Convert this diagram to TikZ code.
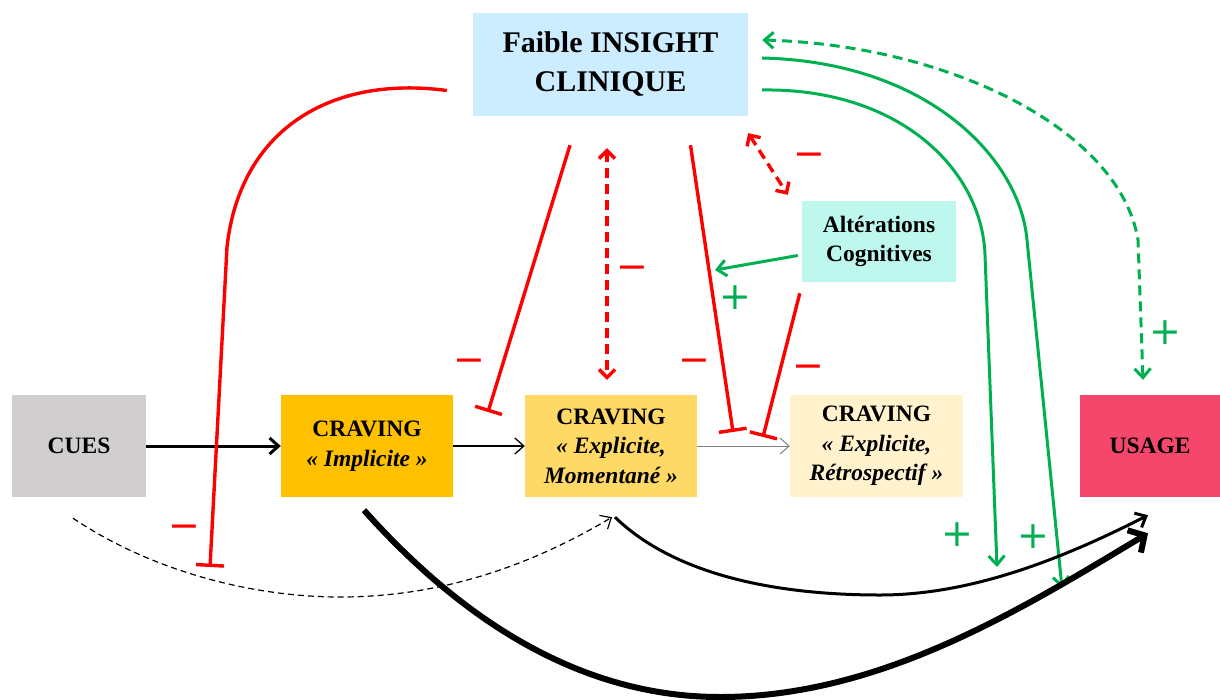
\documentclass[tikz,border=0pt]{standalone}
\usepackage{fontspec}
\setmainfont{Liberation Serif}
\newfontfamily\signfont{DejaVu Sans}
\usepackage{tikz}
\usetikzlibrary{calc,arrows.meta,positioning}
\definecolor{insightblue}{RGB}{204,236,255}
\definecolor{cuesgray}{RGB}{208,206,206}
\definecolor{implorange}{RGB}{255,192,0}
\definecolor{momyellow}{RGB}{255,217,102}
\definecolor{retrocream}{RGB}{255,242,204}
\definecolor{usagered}{RGB}{244,71,107}
\definecolor{altcyan}{RGB}{189,247,238}
\definecolor{inhibred}{RGB}{255,0,0}
\definecolor{plusgreen}{RGB}{0,176,80}
\tikzset{
  box/.style={inner sep=0pt,minimum height=102,align=center,
    font=\bfseries\fontsize{23.5}{29.5}\selectfont},
  link/.style={-{Straight Barb[length=9,width=16]}},
  inhib/.style={draw=inhibred,line width=3.4,-{Bar[width=28]}},
  inhibdash/.style={draw=inhibred,line width=3.4,dash pattern=on 10 off 6,
    {Straight Barb[length=8,width=16]}-{Straight Barb[length=8,width=16]}},
  excite/.style={draw=plusgreen,line width=3,-{Straight Barb[length=9,width=16]}},
  sign/.style={inner sep=0pt,font=\signfont\fontsize{38}{38}\selectfont},
  minus/.style={sign,text=inhibred},
  plus/.style={sign,text=plusgreen}
}
\begin{document}
\begin{tikzpicture}[x=1pt,y=-1pt]
  \useasboundingbox (0,0) rectangle (1220,699);
  % boxes
  \node[box,fill=insightblue,minimum width=275,minimum height=103,
    font=\bfseries\fontsize{30}{39}\selectfont] (insight) at (610.5,64.5)
    {Faible INSIGHT\\CLINIQUE};
  \node[box,fill=cuesgray,minimum width=134] (cues) at (79,446) {CUES};
  \node[box,fill=implorange,minimum width=172] (implicite) at (367,446)
    {CRAVING\\\textit{«~Implicite~»}};
  \node[box,fill=momyellow,minimum width=172] (momentane) at (611,446)
    {CRAVING\\\textit{«~Explicite,}\\\textit{Momentané~»}};
  \node[box,fill=retrocream,minimum width=173] (retro) at (876.5,446)
    {CRAVING\\\textit{«~Explicite,}\\\textit{Rétrospectif~»}};
  \node[box,fill=usagered,minimum width=140] (usage) at (1150,446) {USAGE};
  \node[box,fill=altcyan,minimum width=154,minimum height=81] (alter) at (879,241.5)
    {Altérations\\Cognitives};

  % craving chain
  \draw[link,line width=3] (cues) -- (implicite);
  \draw[link,line width=1.3] (implicite) -- (momentane);
  \draw[link,line width=1,draw=gray] (momentane) -- (retro);

  % inhibitions
  \coordinate (barA) at (210,567);
  \coordinate (barB) at (488,412);
  \coordinate (barC) at (733,432);
  \coordinate (barD) at (763,437);
  \draw[inhib] ($(insight.west)+(-26,26)$) .. controls (330,75) and (240,130)
    .. (227,247) -- (barA);
  \draw[inhib] ($(insight.south)+(-40.5,29)$) -- (barB);
  \draw[inhib] ($(insight.south)+(80,29)$) -- (barC);
  \draw[inhib] ($(alter.south west)+(-2,11)$) -- (barD);
  \draw[inhibdash] ($(insight.south)+(-3.5,32)$) -- ($(momentane.north)+(-4,-15)$);
  \draw[inhibdash] ($(insight.south east)+(0,17)$) -- ($(alter.north west)+(-14,-6)$);

  % facilitations
  \coordinate (plusA) at (997,567);
  \coordinate (plusB) at (1062,588);
  \draw[excite] ($(alter.west)+(-4,14)$) -- (715,270);
  \draw[excite] ($(insight.east)+(14,25.5)$) .. controls (900,88) and (982,170)
    .. (985,255) -- (plusA);
  \draw[excite] ($(insight.east)+(14,-6.5)$) .. controls (930,62) and (1020,160)
    .. (1027,240) -- (plusB);
  \draw[excite,dash pattern=on 10 off 6,{Straight Barb[length=9,width=16]}-{Straight Barb[length=9,width=16]}]
    ($(insight.east)+(14,-24.5)$) .. controls (950,45) and (1120,130)
    .. (1138,240) -- ($(usage.north)+(-7,-15)$);

  % towards usage
  \draw[link,line width=1.2,dash pattern=on 6 off 4]
    ($(cues.south)+(-6,21)$) .. controls (150,570) and (250,597) .. (340,597)
    .. controls (450,597) and (540,560) .. ($(momentane.south)+(1,20)$);
  \draw[link,line width=3]
    ($(momentane.south)+(4,20)$) .. controls (680,580) and (790,595) .. (880,595)
    .. controls (970,595) and (1060,560) .. ($(usage.south)+(-2,18)$);
  \draw[line width=6,-{Straight Barb[length=12,width=26]}]
    ($(implicite.south)+(-3,13)$) .. controls (480,640) and (600,697) .. (720,697)
    .. controls (880,697) and (1020,610) .. ($(usage.south)+(-2,36)$);

  % signs
  \node[minus] (m1) at (184,532) {−};
  \node[minus] (m2) at (469,366) {−};
  \node[minus] (m3) at (632,273) {−};
  \node[minus] (m4) at (694,366) {−};
  \node[minus] (m5) at (809,160) {−};
  \node[minus] (m6) at (808,372) {−};
  \node[plus] (p1) at (735,298) {+};
  \node[plus] (p2) at (957,535) {+};
  \node[plus] (p3) at (1033,537) {+};
  \node[plus] (p4) at (1165,333) {+};
\end{tikzpicture}
\end{document}
